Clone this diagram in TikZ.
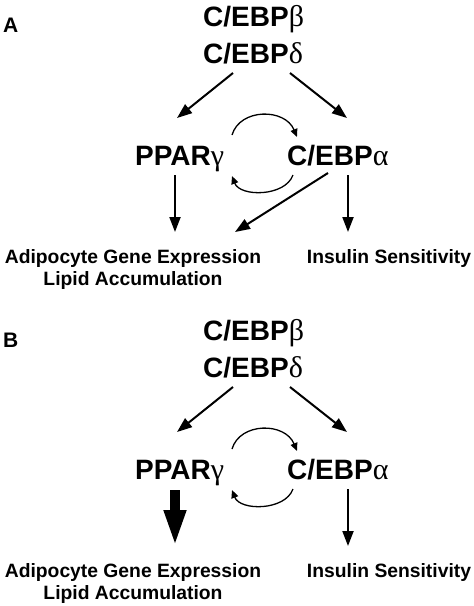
\documentclass[tikz,border=0pt]{standalone}
\usepackage{fontspec}
\setmainfont{Liberation Sans}
\newfontfamily\grk{Liberation Serif}
\usetikzlibrary{arrows.meta}
\newcommand{\gk}[1]{{\fontsize{30}{30}\selectfont\grk\mdseries #1}}
\newcommand{\commonpart}{%
  \node[big] (cb) at (203,26) {C/EBP\gk{β}};
  \node[big] (cd) at (203,63) {C/EBP\gk{δ}};
  \node[big] (pp) at (135,165) {PPAR\gk{γ}};
  \node[big] (ca) at (287,165) {C/EBP\gk{α}};
  \node[small] (adi) at (133,263) {Adipocyte Gene Expression};
  \node[small] (lip) at (133,285) {Lipid Accumulation};
  \node[small] (ins) at (389,263) {Insulin Sensitivity};
  \coordinate (cdL) at (233,73);
  \coordinate (ppT) at (177,118);
  \coordinate (cdR) at (290,73);
  \coordinate (caT) at (347,118);
  \coordinate (t1) at (232,135);
  \coordinate (t2) at (297,137);
  \coordinate (b1) at (293,175);
  \coordinate (b2) at (232,176);
  \coordinate (caB) at (348,175);
  \coordinate (insT) at (348,232);
  \draw[arr] (cdL) -- (ppT);
  \draw[arr] (cdR) -- (caT);
  \draw[carr] (t1) .. controls (240,108) and (285,108) .. (t2);
  \draw[carr] (b1) .. controls (285,197) and (240,197) .. (b2);
  \draw[arr] (caB) -- (insT);
}
\begin{document}
\begin{tikzpicture}[x=1pt,y=-1pt,
  big/.style={font=\fontsize{28}{28}\selectfont\bfseries, inner sep=0pt, anchor=base west},
  small/.style={font=\fontsize{19.3}{22}\selectfont\bfseries, inner sep=0pt, anchor=base},
  panel/.style={font=\fontsize{21}{21}\selectfont\bfseries, inner sep=0pt, anchor=base west},
  arr/.style={line width=2pt, -{Triangle[length=15pt,width=11pt]}},
  carr/.style={line width=1.3pt, -{Triangle[length=8pt,width=7pt]}},
  fatarr/.style={line width=10pt, -{Triangle[length=37pt,width=20pt]}}]
\useasboundingbox (0,0) rectangle (474,606);
\begin{scope}[name prefix=a-]
  \node[panel] (lbl) at (3,32) {A};
  \commonpart
  \coordinate (ppB) at (175,175);
  \coordinate (adiT) at (175,232);
  \coordinate (caD) at (328,173);
  \coordinate (adiR) at (235,232);
  \draw[arr] (ppB) -- (adiT);
  \draw[arr] (caD) -- (adiR);
\end{scope}
\begin{scope}[shift={(0,314)}, name prefix=b-]
  \node[panel] (lbl) at (3,33) {B};
  \commonpart
  \coordinate (ppB) at (175,176);
  \coordinate (adiT) at (175,233);
  \draw[fatarr] (ppB) -- (adiT);
\end{scope}
\end{tikzpicture}
\end{document}
